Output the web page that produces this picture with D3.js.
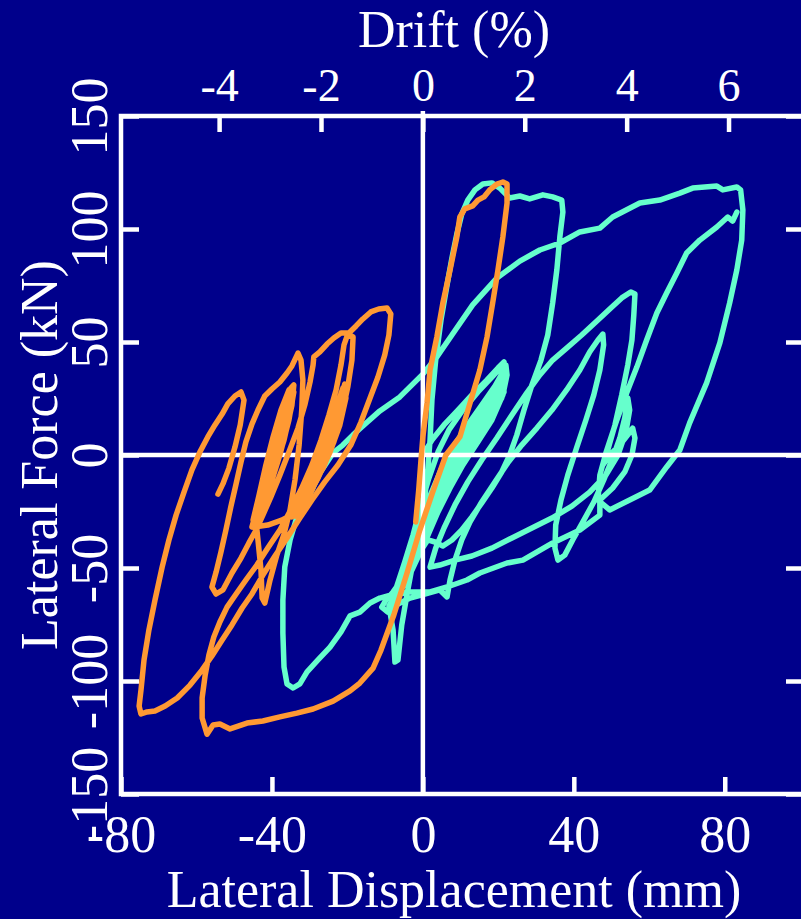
<!DOCTYPE html>
<html>
<head>
<meta charset="utf-8">
<script src="https://cdn.jsdelivr.net/npm/d3@7"></script>
<style>
  html, body { margin: 0; padding: 0; background: #00008b; }
  svg { display: block; }
</style>
</head>
<body>
<svg id="chart" width="801" height="919"></svg>
<script>
// Axis ticks
const dispTicks = [-80, -40, 0, 40, 80];
const driftTicks = [-4, -2, 0, 2, 4, 6];
const forceTicks = [-150, -100, -50, 0, 50, 100, 150];
// Column height (mm) used to turn displacement into drift ratio
const columnHeight = 1350;

// Specimen 1 (aquamarine): [lateral displacement mm, lateral force kN]
const specimen1 = [
  [0,0],[2.4,6.6],[5.6,13.3],[9.3,19.9],[13.0,26.6],[17.0,33.2],[19.9,38.5],[21.5,41.2],[22.0,34.1],[20.9,25.2],
  [17.7,16.4],[14.0,7.5],[10.3,-1.3],[7.2,-10.2],[4.5,-19.0],[1.9,-28.8],[-0.8,-39.8],[-3.4,-50.0],[-6.1,-59.7],[-8.2,-65.5],
  [-6.9,-58.0],[-4.8,-47.3],[-2.6,-35.4],[-0.5,-22.1],[1.6,-10.2],[4.0,1.3],[6.9,11.1],[10.6,19.9],[14.6,27.9],[18.3,34.5],
  [21.2,39.8],[21.7,31.0],[19.6,21.7],[16.2,12.8],[12.5,3.5],[9.0,-5.8],[6.1,-15.5],[3.4,-25.2],[0.8,-35.4],[-2.1,-46.5],
  [-4.8,-56.6],[-7.2,-64.2],[-5.6,-54.4],[-3.2,-42.9],[-0.8,-31.0],[1.9,-18.1],[4.8,-6.6],[8.2,4.0],[11.9,13.3],[15.6,22.1],
  [19.1,30.5],[21.2,36.7],[21.5,27.9],[18.8,19.0],[15.1,10.2],[11.4,1.3],[7.9,-7.5],[4.8,-17.7],[2.1,-27.9],[-1.1,-39.8],
  [-4.0,-51.8],[-6.6,-61.1],
  [-7.4,-62.0],[-4.8,-50.9],[-2.1,-39.8],[0.5,-28.8],[3.2,-18.6],[6.1,-8.9],[9.3,0],[12.7,10.2],[16.2,19.9],[19.3,29.6],
  [21.5,38.5],[21.2,33.2],[19.3,24.3],[16.7,15.5],[13.5,6.6],[9.8,-3.1],[6.6,-11.9],[3.7,-22.1],[1.1,-32.3],[-1.9,-43.4],
  [-4.8,-54.4],[-7.2,-63.3],
  [-6.6,-59.7],[-3.4,-46.5],[-0.3,-34.1],[2.9,-22.1],[6.4,-11.1],[9.8,-1.3],[13.2,8.0],[17.0,17.7],[20.1,27.9],[21.7,37.6],
  [20.4,27.9],[17.5,19.0],[13.8,10.2],[9.8,1.3],[6.4,-7.5],[3.4,-16.8],[0.8,-27.0],[-2.1,-39.8],[-5.0,-53.1],
  [-5.6,-53.1],[-2.4,-37.6],[0.8,-22.1],[4.5,-8.9],[8.5,2.2],[12.5,11.1],[16.7,19.9],[20.4,31.0],[22.0,39.8],
  [22.3,35.4],[21.2,26.6],[18.3,15.5],[14.6,5.8],[10.6,-4.4],[7.2,-14.6],[4.0,-25.2],[0.8,-37.6],[-2.9,-50.9],
  [-9.0,-66.8],
  [-7.9,-77.4],[-7.4,-91.6],[-6.6,-90.7],[-5.6,-75.2],[-4.0,-59.7],[-2.4,-45.6],[-0.8,-32.3],[0.5,-19.0],[1.3,-6.6],[1.9,6.6],
  [2.4,24.3],[3.4,42.0],[4.8,59.7],[6.4,75.2],[7.7,87.2],[9.0,97.8],[10.3,106.6],[11.9,112.8],[13.8,117.3],[15.9,119.9],
  [18.3,120.4],[20.4,118.1],[23.0,113.7],[25.7,114.6],[28.3,113.3],[31.8,115.1],[34.4,114.2],[36.8,112.8],[37.1,107.5],
  [36.3,96.5],[35.5,81.9],[34.4,67.3],[33.1,53.1],[31.3,42.0],[28.9,31.0],[26.8,19.9],[24.9,8.9],[23.0,0],[20.9,-7.5],
  [18.3,-14.6],[15.6,-21.2],[13.0,-27.4],[10.3,-33.2],[7.7,-37.6],[5.3,-40.3],[3.2,-38.5],[1.3,-37.6],[-0.8,-42.9],[-2.9,-49.1],
  [-5.6,-55.3],[-7.9,-60.6],[-9.8,-64.2],[-10.9,-67.3],
  [-9.3,-69.5],[-6.6,-65.9],[-3.4,-63.3],[0.5,-61.5],[4.5,-59.7],[6.4,-62.8],
  [7.2,-55.3],[8.5,-46.5],[10.3,-37.6],[12.5,-29.6],[15.6,-20.8],[19.1,-11.9],[22.5,-3.5],[26.2,4.4],[30.2,11.9],[34.2,19.9],
  [38.1,28.8],[41.6,37.6],[44.2,45.6],[46.4,50.9],[47.7,53.5],
  [47.9,48.7],[46.9,37.6],[45.3,26.6],[43.2,15.5],[40.8,3.5],[38.4,-8.9],[36.6,-19.9],[35.2,-31.0],[35.0,-41.2],[35.8,-46.5],
  [37.6,-44.3],[39.7,-37.6],[42.4,-29.6],[45.3,-20.8],[47.9,-11.1],[50.3,-1.3],[52.2,7.5],[53.5,16.4],[54.3,25.2],
  [54.8,19.9],[53.8,10.2],[51.7,0],[48.5,-8.9],[44.2,-16.4],[39.5,-22.6],[34.2,-27.9],[28.9,-32.3],[23.6,-36.7],[18.3,-41.2],
  [13.0,-44.7],[8.5,-46.5],[4.5,-48.7],[1.9,-49.6],
  [3.4,-41.2],[5.6,-32.3],[8.5,-22.1],[11.9,-11.9],[15.6,-2.2],[19.6,7.5],[23.6,17.7],[27.5,27.4],[31.0,35.4],[34.4,42.0],
  [38.1,47.3],[42.1,53.1],[46.4,59.7],[50.1,65.5],[52.7,69.5],[55.1,72.1],[56.2,71.2],
  [55.9,62.0],[55.4,50.9],[54.3,39.8],[52.7,26.6],[50.9,13.3],[49.0,2.2],[47.7,-4.4],
  [49.5,0],[52.2,4.4],[54.3,8.9],[55.6,11.9],[56.2,7.5],[55.4,0],[53.5,-7.5],[50.3,-14.6],[46.9,-19.9],[46.9,-26.6],
  [41.6,-33.2],[34.4,-38.9],[26.5,-46.5],[22.3,-47.8],[15.1,-52.2],[11.7,-55.3],[6.4,-58.4],[1.9,-60.6],[-3.4,-60.6],[-7.4,-61.5],
  [-11.4,-63.3],[-14.0,-65.5],[-16.7,-69.5],[-19.3,-71.2],[-21.7,-78.3],[-24.6,-85.0],[-27.8,-90.7],[-30.7,-96.0],[-32.6,-101.3],[-34.4,-103.1],
  [-36.0,-101.3],[-36.8,-93.8],[-37.1,-78.8],[-37.1,-64.2],[-36.6,-49.6],[-35.2,-37.6],[-33.4,-27.4],[-30.7,-19.9],[-27.3,-8.0],[-23.8,0.9],
  [-21.2,4.4],[-18.5,8.9],[-16.2,12.4],[-11.4,19.5],[-6.1,25.7],[0,35.8],[3.7,43.4],[7.7,53.1],[13.2,66.4],[19.6,78.3],
  [25.7,85.8],[31.0,90.7],[36.3,93.8],[41.6,98.7],[46.9,100.4],[50.3,105.3],[57.5,111.5],[62.8,112.8],[68.1,115.9],[71.5,118.1],
  [77.9,119.0],[79.5,117.3],[83.2,118.6],[84.2,117.3],[84.8,108.4],
  [84.5,95.1],[83.2,81.9],[81.3,67.3],[78.7,49.6],[75.2,31.9],[70.7,14.2],[68.1,2.2],[64.6,-5.3],[60.1,-15.5],[54.8,-19.9],[49.5,-24.3],
  [46.4,-19.9],[46.9,-8.9],[48.5,0.9],[51.4,15.5],[54.0,27.4],[56.7,38.9],[59.3,50.9],[62.0,62.8],[64.6,71.7],[67.3,80.5],
  [69.9,89.4],[73.4,95.1],[77.9,100.9],[80.8,105.3],[82.1,103.5],[83.2,107.5]
];

// Specimen 2 (orange): [lateral displacement mm, lateral force kN]
const specimen2 = [
  [-1.9,-29.6],[-1.1,-15.5],[-0.5,-2.2],[0,8.0],[1.1,23.0],[1.9,37.6],[3.7,52.2],[5.3,67.3],[7.2,81.9],[9.0,96.5],
  [9.8,105.3],[11.1,108.9],[13.2,110.2],[14.6,112.8],[16.2,114.2],[17.7,117.3],[19.6,119.9],[21.2,120.8],[22.3,119.9],[22.3,111.5],
  [21.2,96.5],[19.9,81.9],[18.5,67.3],[17.0,52.2],[15.1,37.6],[12.5,23.0],[9.8,8.0],[6.1,0],[2.6,-16.4],[-0.8,-33.2],
  [-4.2,-52.2],[-7.7,-70.8],[-11.1,-86.3],[-13.2,-94.3],[-16.7,-100.9],[-19.3,-104.4],[-23.8,-108.9],[-29.1,-112.4],[-33.4,-114.2],[-37.9,-115.9],
  [-42.4,-117.7],[-46.6,-118.6],[-51.1,-121.2],[-53.8,-119.0],[-55.6,-119.5],[-57.2,-123.5],
  [-58.5,-116.4],[-58.5,-107.5],[-57.7,-97.4],[-56.7,-88.5],[-55.4,-80.5],[-53.8,-73.9],[-51.9,-67.3],[-49.5,-61.5],[-46.9,-55.3],[-44.0,-48.7],
  [-41.1,-41.2],[-37.9,-33.2],[-35.0,-24.3],[-32.1,-14.6],[-29.4,-4.4],[-27.0,6.6],[-24.9,17.7],[-23.0,28.8],[-21.7,39.8],[-20.9,48.7],
  [-19.9,53.5],[-18.5,52.2],[-18.8,42.0],[-19.9,30.1],[-21.5,17.7],[-23.6,5.8],[-26.2,-4.9],[-29.4,-14.6],[-32.6,-22.6],[-34.4,-26.6],
  [-32.6,-18.6],[-29.4,-6.6],[-26.2,5.3],[-23.3,17.7],[-21.5,26.6],[-20.7,31.4],[-20.4,25.2],[-22.0,13.3],[-24.6,1.3],[-27.8,-10.2],
  [-31.3,-20.8],[-33.9,-27.0],[-33.1,-22.1],[-30.2,-11.1],[-27.0,0.9],[-24.1,13.3],[-22.0,23.5],[-21.2,29.6],[-21.5,20.8],[-23.6,8.9],
  [-26.5,-3.1],[-29.9,-15.5],[-33.1,-25.2],[-34.7,-27.4],
  [-33.6,-23.5],[-31.0,-13.3],[-28.3,-3.1],[-25.7,7.5],[-23.3,18.6],[-21.7,26.6],[-20.7,31.0],
  [-20.9,24.3],[-22.8,15.5],[-25.2,4.4],[-27.8,-6.6],[-30.7,-17.7],[-33.4,-25.2],
  [-32.6,-19.9],[-29.7,-8.0],[-26.8,3.5],[-24.1,15.5],[-22.0,25.2],[-20.9,28.8],
  [-22.0,19.9],[-24.4,9.7],[-27.3,-1.3],[-30.2,-12.4],[-33.1,-23.5],
  [-34.4,-26.6],[-31.8,-16.4],[-28.9,-5.3],[-26.2,5.8],[-23.8,16.4],[-22.3,24.3],[-21.2,29.6],
  [-20.4,26.6],[-21.7,17.7],[-23.8,6.6],[-26.5,-4.4],[-29.4,-15.5],[-32.3,-24.3],
  [-37.4,-28.8],[-41.1,-31.0],[-44.8,-31.9],[-44.0,-22.1],[-41.6,-7.5],[-38.9,8.9],[-36.6,22.1],[-35.0,29.6],[-34.2,31.0],[-34.7,22.1],
  [-36.8,6.6],[-40.0,-10.2],[-43.2,-24.3],[-45.3,-31.9],[-44.2,-25.2],[-42.1,-13.3],[-39.5,2.2],[-37.1,16.4],[-35.2,26.6],[-34.4,28.8],
  [-35.5,15.5],[-37.9,0],[-40.8,-15.5],[-43.4,-27.9],
  [-44.5,-26.6],[-42.6,-15.5],[-40.5,-3.1],[-38.4,10.2],[-36.3,22.1],[-34.7,29.6],
  [-35.0,23.5],[-36.6,11.9],[-38.7,-1.3],[-41.1,-14.6],[-43.4,-26.6],[-45.0,-31.4],
  [-43.7,-19.9],[-41.6,-6.6],[-39.2,6.6],[-37.1,19.0],[-35.2,27.9],
  [-35.8,19.0],[-37.6,6.6],[-40.0,-6.6],[-42.4,-19.0],[-44.5,-28.8],
  [-45.0,-28.8],[-43.4,-17.7],[-41.6,-4.4],[-39.7,8.0],[-37.6,19.9],[-35.5,28.8],
  [-34.2,27.9],[-35.5,15.5],[-37.6,2.2],[-40.0,-11.1],[-42.4,-22.1],[-44.2,-29.6],
  [-43.7,-37.6],[-42.9,-50.9],[-42.6,-63.3],[-41.9,-65.5],[-40.5,-55.3],[-38.7,-44.3],[-36.8,-35.0],[-35.2,-24.3],[-33.9,-11.1],[-32.8,4.4],
  [-32.1,19.9],[-31.8,33.2],[-32.3,42.0],[-33.1,45.1],
  [-34.7,39.4],[-36.0,36.3],[-37.9,32.3],[-40.0,29.2],[-41.9,26.1],[-43.7,19.9],[-45.3,13.7],[-46.9,5.8],[-48.2,-3.1],[-49.5,-12.8],
  [-50.9,-23.0],[-52.2,-33.2],[-53.5,-42.9],[-54.8,-51.8],[-55.9,-58.4],[-54.8,-61.5],[-53.0,-59.7],[-50.6,-52.2],[-48.2,-45.6],[-46.1,-38.9],
  [-44.2,-33.2],
  [-42.4,-26.6],[-40.3,-18.6],[-37.9,-8.9],[-35.5,1.3],[-33.1,11.9],[-31.3,22.1],[-29.9,32.3],[-29.1,39.8],[-28.9,43.4],
  [-27.3,45.6],[-25.4,49.1],[-23.6,51.8],[-21.7,54.0],[-19.6,54.0],[-17.7,57.1],[-15.9,60.2],[-13.8,63.3],[-11.7,64.6],[-9.5,65.0],
  [-8.5,62.4],
  [-9.0,53.1],[-10.1,44.3],[-11.9,34.5],[-14.0,25.2],[-16.4,14.6],[-19.1,4.4],[-22.5,-4.4],[-26.0,-11.9],[-29.4,-19.9],[-32.6,-27.9],
  [-36.0,-36.7],[-39.2,-44.7],[-42.4,-53.1],[-45.3,-61.5],[-47.9,-67.7],[-50.6,-75.2],[-53.2,-81.9],[-55.9,-88.9],[-58.5,-95.1],[-61.7,-101.8],
  [-65.1,-107.5],[-68.3,-111.1],[-71.0,-113.3],[-73.1,-113.7],[-74.7,-114.6],[-75.2,-111.1],
  [-74.7,-104.0],[-73.9,-90.7],[-72.6,-77.4],[-71.0,-64.2],[-69.1,-49.6],[-67.3,-37.6],[-65.4,-26.6],[-63.3,-16.4],[-61.2,-6.6],[-59.1,1.3],
  [-57.0,8.0],[-55.1,13.3],[-53.2,18.1],[-51.7,22.6],[-49.8,26.1],[-48.2,27.9],[-47.4,24.3],[-48.4,13.3],[-49.8,3.5],[-51.4,-5.8],
  [-53.0,-12.8],[-54.3,-17.3]
];

const W = 801, H = 919;
const bg = "#00008b";
const fontFamily = "'Liberation Serif', 'Times New Roman', Times, serif";

const svg = d3.select("#chart");
svg.append("rect").attr("width", W).attr("height", H).attr("fill", bg);

const x = d3.scaleLinear().domain([-80, 101]).range([121, 804]);
const y = d3.scaleLinear().domain([-150, 150]).range([794, 116]);
const drift = d3.scaleLinear()
  .domain(x.domain().map(d => d / columnHeight * 100))
  .range(x.range());

const [x0, x1] = x.range();
const [yBot, yTop] = y.range();

// Tick marks and labels
function styleAxis(g) {
  g.attr("font-family", fontFamily).attr("font-size", 52).attr("color", "#ffffff");
  g.select(".domain").remove();
  g.selectAll(".tick line").attr("stroke-width", 4.5);
}

svg.append("g")
  .attr("transform", `translate(0,${yBot})`)
  .call(d3.axisBottom(x).tickValues(dispTicks).tickSize(-17).tickFormat(d => String(d)))
  .call(styleAxis)
  .call(g => g.selectAll(".tick text").attr("y", 58).attr("dy", 0));

svg.append("g")
  .attr("transform", `translate(0,${yTop})`)
  .call(d3.axisTop(drift).tickValues(driftTicks).tickSize(-16).tickFormat(d => String(d)))
  .call(styleAxis)
  .call(g => g.attr("font-size", 46))
  .call(g => g.selectAll(".tick text").attr("y", -15).attr("dy", 0));

svg.append("g")
  .attr("transform", `translate(${x0},0)`)
  .call(d3.axisLeft(y).tickValues(forceTicks).tickSize(-18).tickFormat(d => String(d)))
  .call(styleAxis)
  .call(g => g.selectAll(".tick text")
    .attr("x", 0).attr("y", 0).attr("dy", 0)
    .attr("text-anchor", "middle")
    .attr("transform", "translate(-14,0) rotate(-90)"));

svg.append("g")
  .attr("transform", `translate(${x1},0)`)
  .call(d3.axisRight(y).tickValues(forceTicks).tickSize(-18).tickFormat(""))
  .call(styleAxis);

// Plot frame
svg.append("rect")
  .attr("x", x0).attr("y", yTop)
  .attr("width", x1 - x0).attr("height", yBot - yTop)
  .attr("fill", "none").attr("stroke", "#ffffff").attr("stroke-width", 4.5);

const line = d3.line().x(d => x(d[0])).y(d => y(d[1]));

function drawLoop(data, color) {
  svg.append("path")
    .datum(data)
    .attr("d", line)
    .attr("fill", "none")
    .attr("stroke", color)
    .attr("stroke-width", 5.5)
    .attr("stroke-linejoin", "round")
    .attr("stroke-linecap", "round");
}

drawLoop(specimen1, "#66ffcc");

// Zero reference lines
svg.append("line")
  .attr("x1", x(0)).attr("x2", x(0))
  .attr("y1", yTop - 5).attr("y2", yBot)
  .attr("stroke", "#ffffff").attr("stroke-width", 4.5);
svg.append("line")
  .attr("x1", x0).attr("x2", x1)
  .attr("y1", y(0)).attr("y2", y(0))
  .attr("stroke", "#ffffff").attr("stroke-width", 4.5);

drawLoop(specimen2, "#ff9933");

// Axis titles
svg.append("text")
  .attr("x", 454).attr("y", 907)
  .attr("text-anchor", "middle")
  .attr("font-family", fontFamily).attr("font-size", 52).attr("fill", "#ffffff")
  .text("Lateral Displacement (mm)");

svg.append("text")
  .attr("x", 454).attr("y", 47)
  .attr("text-anchor", "middle")
  .attr("font-family", fontFamily).attr("font-size", 52).attr("fill", "#ffffff")
  .text("Drift (%)");

svg.append("text")
  .attr("transform", `translate(57,${(yTop + yBot) / 2}) rotate(-90)`)
  .attr("text-anchor", "middle")
  .attr("font-family", fontFamily).attr("font-size", 52).attr("fill", "#ffffff")
  .text("Lateral Force (kN)");
</script>
</body>
</html>
